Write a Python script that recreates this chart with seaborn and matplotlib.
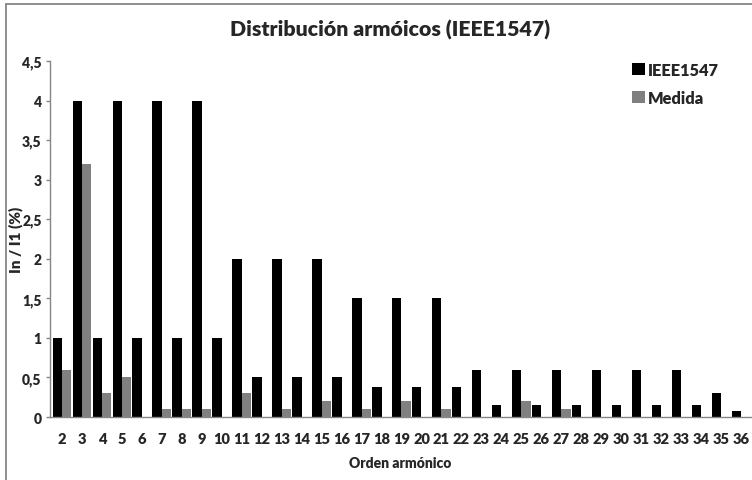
import matplotlib
matplotlib.use("Agg")
import matplotlib.pyplot as plt
from matplotlib.lines import Line2D
from matplotlib.patches import Patch
import numpy as np
import pandas as pd
import seaborn as sns

# Harmonic orders and limits / measured values (In / I1, %)
ordenes = list(range(2, 37))
ieee1547 = [1, 4, 1, 4, 1, 4, 1, 4, 1, 2, 0.5, 2, 0.5, 2, 0.5, 1.5, 0.375, 1.5,
            0.375, 1.5, 0.375, 0.6, 0.15, 0.6, 0.15, 0.6, 0.15, 0.6, 0.15, 0.6,
            0.15, 0.6, 0.15, 0.3, 0.075]
medida = [0.6, 3.2, 0.3, 0.5, 0, 0.1, 0.1, 0.1, 0, 0.3, 0, 0.1, 0, 0.2, 0, 0.1,
          0, 0.2, 0, 0.1, 0, 0, 0, 0.2, 0, 0.1, 0, 0, 0, 0, 0, 0, 0, 0, 0]
series = ["IEEE1547", "Medida"]
colores = ["#000000", "#808080"]
yticks = [0, 0.5, 1, 1.5, 2, 2.5, 3, 3.5, 4, 4.5]

df = pd.DataFrame({
    "orden": [str(o) for o in ordenes] * 2,
    "valor": ieee1547 + medida,
    "serie": [series[0]] * len(ordenes) + [series[1]] * len(ordenes),
})

sns.set_style("white")
plt.rcParams["font.family"] = ["Lato", "DejaVu Sans"]
plt.rcParams["font.weight"] = "heavy"
W = "heavy"

fig = plt.figure(figsize=(7.52, 4.81), dpi=100)
ax = fig.add_axes([50 / 752, 1 - 418 / 481, 701 / 752, 356 / 481])

sns.barplot(data=df, x="orden", y="valor", hue="serie",
            order=[str(o) for o in ordenes], hue_order=series,
            palette=colores, saturation=1, width=0.94, dodge=True,
            edgecolor="none", linewidth=0, legend=False, ax=ax)

grey = "#868686"
ax.set_ylim(0, 4.5)
ax.set_xlim(-0.6, 34.5)
ax.set_yticks(yticks)
ax.set_yticklabels([f"{t:g}".replace(".", ",") for t in yticks],
                   fontsize=10, fontweight=W)
ax.tick_params(axis="y", which="both", left=True, length=3, width=1,
               color=grey, pad=3)
ax.tick_params(axis="x", bottom=False, length=0, pad=11)
for lab in ax.get_xticklabels():
    lab.set_fontsize(10.5)
    lab.set_fontweight(W)

for side in ["top", "right"]:
    ax.spines[side].set_visible(False)
for side in ["left", "bottom"]:
    ax.spines[side].set_color(grey)
    ax.spines[side].set_linewidth(1)

ax.set_xlabel("Orden armónico", fontsize=10, fontweight=W, labelpad=8)
ax.set_ylabel("In / I1 (%)", fontsize=11, fontweight=W)
ax.yaxis.set_label_coords(-0.0385, 0.5)

fig.text(0.519, 0.937, "Distribución armóicos (IEEE1547)", ha="center",
         va="center", fontsize=15.3, fontweight=W)

handles = [Patch(facecolor=c, edgecolor="none") for c in colores]
fig.legend(handles, series, loc="upper left", bbox_to_anchor=(0.832, 0.883),
           frameon=False, prop={"weight": W, "size": 11.8},
           handlelength=0.75, handleheight=0.75, handletextpad=0.2,
           labelspacing=0.75, borderaxespad=0)

# Outer chart frame (top and left edges)
fig.add_artist(Line2D([6 / 752, 1.0], [1 - 5 / 481, 1 - 5 / 481],
                      transform=fig.transFigure, color=grey, lw=1.3))
fig.add_artist(Line2D([6 / 752, 6 / 752], [0.0, 1 - 5 / 481],
                      transform=fig.transFigure, color=grey, lw=1.3))

fig.savefig("out.png", dpi=100)
